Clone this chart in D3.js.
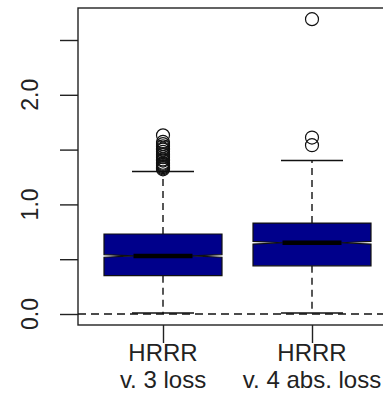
<!DOCTYPE html>
<html>
<head>
<meta charset="utf-8">
<script src="https://cdn.jsdelivr.net/npm/d3@7"></script>
<style>
  body { margin: 0; background: #fff; }
  text { font-family: "Liberation Sans", Arial, sans-serif; fill: #222; }
</style>
</head>
<body>
<div id="chart"></div>
<script>
// Box plot data
const groups = ["v3", "v4"];
const labelTop = ["HRRR", "HRRR"];
const labelBottom = ["v. 3 loss", "v. 4 abs. loss"];
const q1 = [0.35, 0.44];
const median = [0.53, 0.65];
const q3 = [0.73, 0.83];
const whiskerLo = [0.0, 0.0];
const whiskerHi = [1.30, 1.40];
const notch = [0.012, 0.012];
const outliersV3 = [1.32, 1.33, 1.34, 1.35, 1.36, 1.37, 1.38, 1.40, 1.41, 1.43,
  1.45, 1.46, 1.48, 1.50, 1.51, 1.53, 1.55, 1.57, 1.63];
const outliersV4 = [1.54, 1.61, 2.69];
const yTicks = [0, 0.5, 1, 1.5, 2, 2.5];
const yLabels = [0, 1, 2];

const svgWidth = 383;
const svgHeight = 396;
const frame = { left: 78, top: 8, right: 392, bottom: 325 };

const svg = d3.select("#chart")
  .append("svg")
  .attr("width", svgWidth)
  .attr("height", svgHeight);

// scales
const x = d3.scalePoint().domain(groups).range([163, 312]);
const y = d3.scaleLinear().domain([0, 2.5]).range([314, 40]);
const boxW = 118;
const capW = 62;

// plot frame
svg.append("rect")
  .attr("x", frame.left)
  .attr("y", frame.top)
  .attr("width", frame.right - frame.left)
  .attr("height", frame.bottom - frame.top)
  .attr("fill", "none")
  .attr("stroke", "#222")
  .attr("stroke-width", 1.4);

// y axis ticks
const yAxis = svg.append("g")
  .attr("transform", `translate(${frame.left},0)`)
  .call(d3.axisLeft(y).tickValues(yTicks).tickSize(18).tickFormat(""));
yAxis.select(".domain").remove();
yAxis.selectAll("line").attr("stroke", "#222").attr("stroke-width", 1.4);

svg.selectAll(".ylab")
  .data(yLabels)
  .enter()
  .append("text")
  .attr("class", "ylab")
  .attr("transform", d => `translate(38,${y(d)}) rotate(-90)`)
  .attr("text-anchor", "middle")
  .style("font-size", "23px")
  .text(d => d.toFixed(1));

// x axis ticks
const xAxis = svg.append("g")
  .attr("transform", `translate(0,${frame.bottom})`)
  .call(d3.axisBottom(x).tickSize(18).tickFormat(""));
xAxis.select(".domain").remove();
xAxis.selectAll("line").attr("stroke", "#222").attr("stroke-width", 1.4);

const xLab = svg.selectAll(".xlab")
  .data(groups)
  .enter()
  .append("text")
  .attr("class", "xlab")
  .attr("text-anchor", "middle")
  .style("font-size", "24px");
xLab.append("tspan")
  .attr("x", d => x(d))
  .attr("y", 361)
  .text((d, i) => labelTop[i]);
xLab.append("tspan")
  .attr("x", d => x(d))
  .attr("y", 388)
  .text((d, i) => labelBottom[i]);

// dashed reference line at zero
svg.append("line")
  .attr("x1", frame.left)
  .attr("x2", frame.right)
  .attr("y1", y(0))
  .attr("y2", y(0))
  .attr("stroke", "#111")
  .attr("stroke-width", 1.4)
  .attr("stroke-dasharray", "8,5");

// boxes
const boxes = svg.selectAll(".box")
  .data(groups)
  .enter()
  .append("g")
  .attr("class", "box");

// whiskers (dashed)
boxes.append("line")
  .attr("x1", d => x(d)).attr("x2", d => x(d))
  .attr("y1", (d, i) => y(q3[i])).attr("y2", (d, i) => y(whiskerHi[i]))
  .attr("stroke", "#111").attr("stroke-width", 1.4).attr("stroke-dasharray", "7,5");
boxes.append("line")
  .attr("x1", d => x(d)).attr("x2", d => x(d))
  .attr("y1", (d, i) => y(q1[i])).attr("y2", (d, i) => y(whiskerLo[i]))
  .attr("stroke", "#111").attr("stroke-width", 1.4).attr("stroke-dasharray", "7,5");

// caps
boxes.append("line")
  .attr("x1", d => x(d) - capW / 2).attr("x2", d => x(d) + capW / 2)
  .attr("y1", (d, i) => y(whiskerHi[i])).attr("y2", (d, i) => y(whiskerHi[i]))
  .attr("stroke", "#111").attr("stroke-width", 1.4);
boxes.append("line")
  .attr("x1", d => x(d) - capW / 2).attr("x2", d => x(d) + capW / 2)
  .attr("y1", (d, i) => y(whiskerLo[i]) - 1).attr("y2", (d, i) => y(whiskerLo[i]) - 1)
  .attr("stroke", "#111").attr("stroke-width", 1.4);

// notched box body
boxes.append("path")
  .attr("d", (d, i) => {
    const l = x(d) - boxW / 2, r = x(d) + boxW / 2, inset = boxW * 0.25;
    const t = y(q3[i]), b = y(q1[i]), m = y(median[i]);
    const nu = y(median[i] + notch[i]), nl = y(median[i] - notch[i]);
    return `M${l},${t}L${r},${t}L${r},${nu}L${r - inset},${m}L${r},${nl}` +
      `L${r},${b}L${l},${b}L${l},${nl}L${l + inset},${m}L${l},${nu}Z`;
  })
  .attr("fill", "#00008b")
  .attr("stroke", "#111")
  .attr("stroke-width", 1.2);

// median
boxes.append("line")
  .attr("x1", d => x(d) - boxW / 2 + boxW * 0.25)
  .attr("x2", d => x(d) + boxW / 2 - boxW * 0.25)
  .attr("y1", (d, i) => y(median[i])).attr("y2", (d, i) => y(median[i]))
  .attr("stroke", "#000").attr("stroke-width", 4.5);

// outliers
const outliers = [outliersV3, outliersV4];
groups.forEach((g, i) => {
  svg.selectAll(".out" + i)
    .data(outliers[i])
    .enter()
    .append("circle")
    .attr("class", "out" + i)
    .attr("cx", x(g))
    .attr("cy", d => y(d))
    .attr("r", 6.5)
    .attr("fill", "none")
    .attr("stroke", "#111")
    .attr("stroke-width", 1.2);
});
</script>
</body>
</html>
